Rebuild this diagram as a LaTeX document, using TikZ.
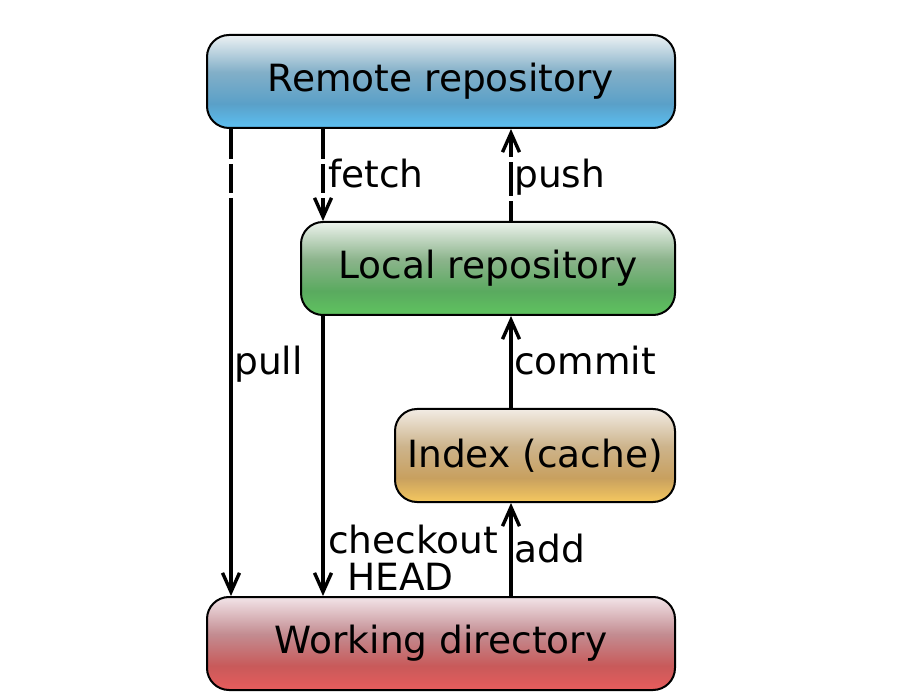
\documentclass[tikz,border=0pt]{standalone}
\usepackage{fontspec}
\setmainfont{DejaVu Sans}
\usetikzlibrary{arrows.meta}
\definecolor{bluetop}{RGB}{236,241,243}
\definecolor{bluemidA}{RGB}{130,175,200}
\definecolor{bluemidB}{RGB}{90,160,200}
\definecolor{bluebot}{RGB}{92,192,242}
\definecolor{greentop}{RGB}{236,242,236}
\definecolor{greenmidA}{RGB}{140,180,140}
\definecolor{greenmidB}{RGB}{90,170,95}
\definecolor{greenbot}{RGB}{95,195,95}
\definecolor{indextop}{RGB}{242,236,228}
\definecolor{indexmidA}{RGB}{205,180,140}
\definecolor{indexmidB}{RGB}{200,160,95}
\definecolor{indexbot}{RGB}{245,200,95}
\definecolor{redtop}{RGB}{242,228,232}
\definecolor{redmidA}{RGB}{195,140,145}
\definecolor{redmidB}{RGB}{200,90,90}
\definecolor{redbot}{RGB}{232,92,92}
\pgfdeclareverticalshading{blueshade}{100bp}{color(0bp)=(bluebot); color(25bp)=(bluebot); color(38bp)=(bluemidB); color(55bp)=(bluemidA); color(75bp)=(bluetop); color(100bp)=(bluetop)}
\pgfdeclareverticalshading{greenshade}{100bp}{color(0bp)=(greenbot); color(25bp)=(greenbot); color(38bp)=(greenmidB); color(55bp)=(greenmidA); color(75bp)=(greentop); color(100bp)=(greentop)}
\pgfdeclareverticalshading{indexshade}{100bp}{color(0bp)=(indexbot); color(25bp)=(indexbot); color(38bp)=(indexmidB); color(55bp)=(indexmidA); color(75bp)=(indextop); color(100bp)=(indextop)}
\pgfdeclareverticalshading{redshade}{100bp}{color(0bp)=(redbot); color(25bp)=(redbot); color(38bp)=(redmidB); color(55bp)=(redmidA); color(75bp)=(redtop); color(100bp)=(redtop)}
\begin{document}
\begin{tikzpicture}[x=1pt,y=-1pt,
  box/.style={draw=black, line width=2pt, rounded corners=22pt, minimum height=93pt, inner sep=0pt, font=\fontsize{37.5}{45}\selectfont},
  lbl/.style={inner sep=0pt, anchor=base west, font=\fontsize{37.5}{45}\selectfont},
  conn/.style={line width=3.4pt, draw=black},
  tip/.style={-{Straight Barb[length=19pt,width=17pt]}}]
\useasboundingbox (0,0) rectangle (900,700);
\node[box, shading=blueshade, minimum width=468pt] (remote) at (441,81.5) {Remote repository};
\node[box, shading=greenshade, minimum width=374pt] (local) at (488,268.5) {Local repository};
\node[box, shading=indexshade, minimum width=280pt] (index) at (535,455.5) {Index (cache)};
\node[box, shading=redshade, minimum width=468pt] (work) at (441,643.5) {Working directory};
\coordinate (px) at (231,0);
\coordinate (fx) at (323,0);
\coordinate (ux) at (511,0);
% pull (dashed part, then solid)
\draw[conn, tip] (remote.south -| px) -- ++(0,30) ++(0,5) -- ++(0,29) ++(0,5) -- (work.north -| px);
% fetch
\draw[conn, tip] (remote.south -| fx) -- ++(0,30) ++(0,5) -- ++(0,29) ++(0,5) -- (local.north -| fx);
% push
\draw[conn, tip] (local.north -| ux) -- ++(0,-20) ++(0,-5) -- ++(0,-34) ++(0,-5) -- (remote.south -| ux);
% checkout
\draw[conn, tip] (local.south -| fx) -- (work.north -| fx);
% commit
\draw[conn, tip] (index.north -| ux) -- (local.south -| ux);
% add
\draw[conn, tip] (work.north -| ux) -- (index.south -| ux);
\node[lbl] (lfetch) at (328,188) {fetch};
\node[lbl] (lpush) at (514,188) {push};
\node[lbl] (lpull) at (234,375) {pull};
\node[lbl] (lcommit) at (514,375) {commit};
\node[lbl] (lcheckout) at (328,553) {checkout};
\node[lbl] (lhead) at (347,590) {HEAD};
\node[lbl] (ladd) at (514,562) {add};
\end{tikzpicture}
\end{document}
